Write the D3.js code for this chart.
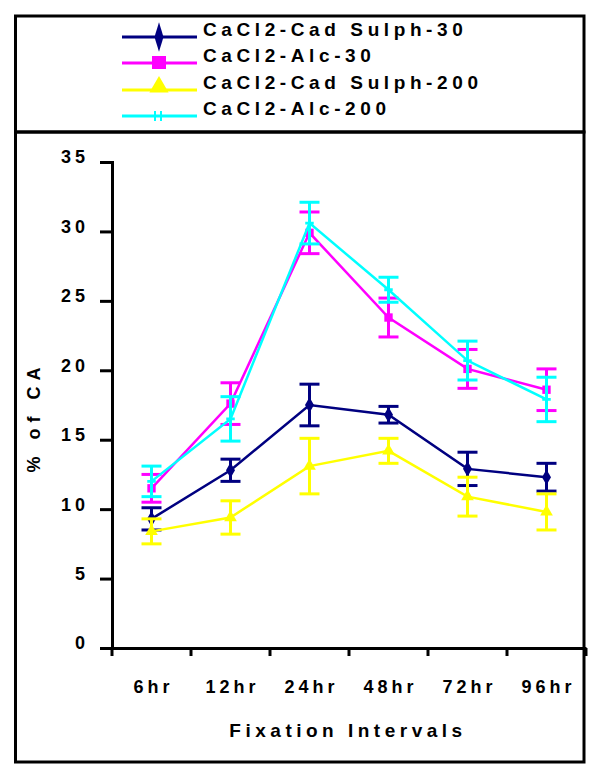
<!DOCTYPE html>
<html><head><meta charset="utf-8">
<script src="https://cdn.jsdelivr.net/npm/d3@7"></script>
<style>body{margin:0;background:#fff}svg{display:block}text{font-family:"Liberation Sans",Arial,sans-serif;font-weight:bold;fill:#000}</style>
</head><body><svg id="c" width="600" height="775"></svg>
<script>
const categories = ["6hr","12hr","24hr","48hr","72hr","96hr"];
const seriesNames = ["CaCl2-Cad Sulph-30","CaCl2-Alc-30","CaCl2-Cad Sulph-200","CaCl2-Alc-200"];
const colors = ["#000080","#ff00ff","#ffff00","#00ffff"];
const cadSulph30 = [9.3,12.8,17.5,16.8,12.9,12.3];
const cadSulph30Err = [0.8,0.8,1.5,0.6,1.2,1.0];
const alc30 = [11.5,17.6,29.9,23.8,20.1,18.6];
const alc30Err = [1.0,1.5,1.5,1.4,1.4,1.5];
const cadSulph200 = [8.4,9.4,13.1,14.2,10.9,9.8];
const cadSulph200Err = [0.9,1.2,2.0,0.9,1.4,1.3];
const alc200 = [12.0,16.5,30.6,25.8,20.7,17.9];
const alc200Err = [1.1,1.6,1.5,0.9,1.4,1.6];
const yTicks = [0,5,10,15,20,25,30,35];

const values = [cadSulph30, alc30, cadSulph200, alc200];
const errs = [cadSulph30Err, alc30Err, cadSulph200Err, alc200Err];
const symbols = [d3.symbolDiamond, d3.symbolSquare, d3.symbolTriangle, d3.symbolCross];
const FONT = "'Liberation Sans',Arial,sans-serif";

const svg = d3.select("#c");
// frames
svg.append("rect").attr("x",15.5).attr("y",16).attr("width",568.5).attr("height",116).attr("fill","none").attr("stroke","#000").attr("stroke-width",3);
svg.append("rect").attr("x",15.5).attr("y",132).attr("width",568.5).attr("height",630).attr("fill","none").attr("stroke","#000").attr("stroke-width",3);

const x = d3.scaleBand().domain(categories).range([112,586]).paddingInner(0).paddingOuter(0);
const y = d3.scaleLinear().domain([0,35]).range([648,162]);

// y axis
const yAxis = d3.axisLeft(y).tickValues(yTicks).tickSize(12).tickPadding(11).tickFormat(d3.format("d"));
const gy = svg.append("g").attr("transform","translate(112,0)").call(yAxis);
gy.select(".domain").attr("stroke","#000").attr("stroke-width",3);
gy.selectAll(".tick line").attr("stroke","#000").attr("stroke-width",3);
gy.selectAll(".tick text").attr("dy","0.05em").style("font-size","18px").style("letter-spacing","4px").style("font-family",FONT).style("font-weight","bold").attr("fill","#000");

// x axis
const xAxis = d3.axisBottom(x).tickSize(0).tickPadding(32);
const gx = svg.append("g").attr("transform","translate(0,648)").call(xAxis);
gx.select(".domain").attr("stroke","#000").attr("stroke-width",3);
gx.selectAll(".tick text").attr("dx","2px").style("font-size","18px").style("letter-spacing","4px").style("font-family",FONT).style("font-weight","bold").attr("fill","#000");
// boundary ticks
const bounds = categories.map(c => x(c)).concat([x(categories[categories.length-1]) + x.step()]);
svg.append("g").selectAll("line").data(bounds).join("line")
  .attr("x1",d=>d).attr("x2",d=>d).attr("y1",648).attr("y2",656).attr("stroke","#000").attr("stroke-width",3);

svg.append("text").attr("x",348).attr("y",737).attr("text-anchor","middle").style("font-size","19px").style("letter-spacing","4.5px").text("Fixation Intervals");
svg.append("text").attr("transform","translate(40,417) rotate(-90)").attr("text-anchor","middle").style("font-size","18px").style("letter-spacing","6px").text("% of CA");

const cx = c => x(c) + x.bandwidth()/2;
const line = d3.line().x((d,i)=>cx(categories[i])).y(d=>y(d));

values.forEach((vals,s) => {
  const g = svg.append("g");
  g.append("path").attr("d",line(vals)).attr("fill","none").attr("stroke",colors[s]).attr("stroke-width",2.5);
  vals.forEach((v,i) => {
    const px = cx(categories[i]);
    const e = errs[s][i];
    g.append("line").attr("x1",px).attr("x2",px).attr("y1",y(v+e)).attr("y2",y(v-e)).attr("stroke",colors[s]).attr("stroke-width",3);
    [v+e, v-e].forEach(t => g.append("line").attr("x1",px-10).attr("x2",px+10).attr("y1",y(t)).attr("y2",y(t)).attr("stroke",colors[s]).attr("stroke-width",3));
    g.append("path").attr("d",d3.symbol().type(symbols[s]).size(s===3?40:70)()).attr("transform",`translate(${px},${y(v)})`).attr("fill",colors[s]);
  });
});

// legend
const legY = [37,63,90,116];
seriesNames.forEach((n,s) => {
  const ly = legY[s];
  svg.append("line").attr("x1",122).attr("x2",197).attr("y1",ly).attr("y2",ly).attr("stroke",colors[s]).attr("stroke-width",3);
  if (s===0) {
    svg.append("path").attr("d",d3.symbol().type(d3.symbolDiamond).size(110)()).attr("transform",`translate(159,${ly}) scale(0.8,1.5)`).attr("fill",colors[s]);
  } else if (s===1) {
    svg.append("rect").attr("x",152).attr("y",ly-7).attr("width",14).attr("height",13).attr("fill",colors[s]);
  } else if (s===2) {
    svg.append("path").attr("d",d3.symbol().type(d3.symbolTriangle).size(160)()).attr("transform",`translate(159,${ly-3})`).attr("fill",colors[s]);
  } else {
    svg.append("line").attr("x1",155).attr("x2",155).attr("y1",ly-5).attr("y2",ly+5).attr("stroke",colors[s]).attr("stroke-width",2);
    svg.append("line").attr("x1",161).attr("x2",161).attr("y1",ly-5).attr("y2",ly+5).attr("stroke",colors[s]).attr("stroke-width",2);
  }
  svg.append("text").attr("x",203).attr("y",ly-1).style("font-size","19px").style("letter-spacing","4.6px").text(n);
});
</script></body></html>
